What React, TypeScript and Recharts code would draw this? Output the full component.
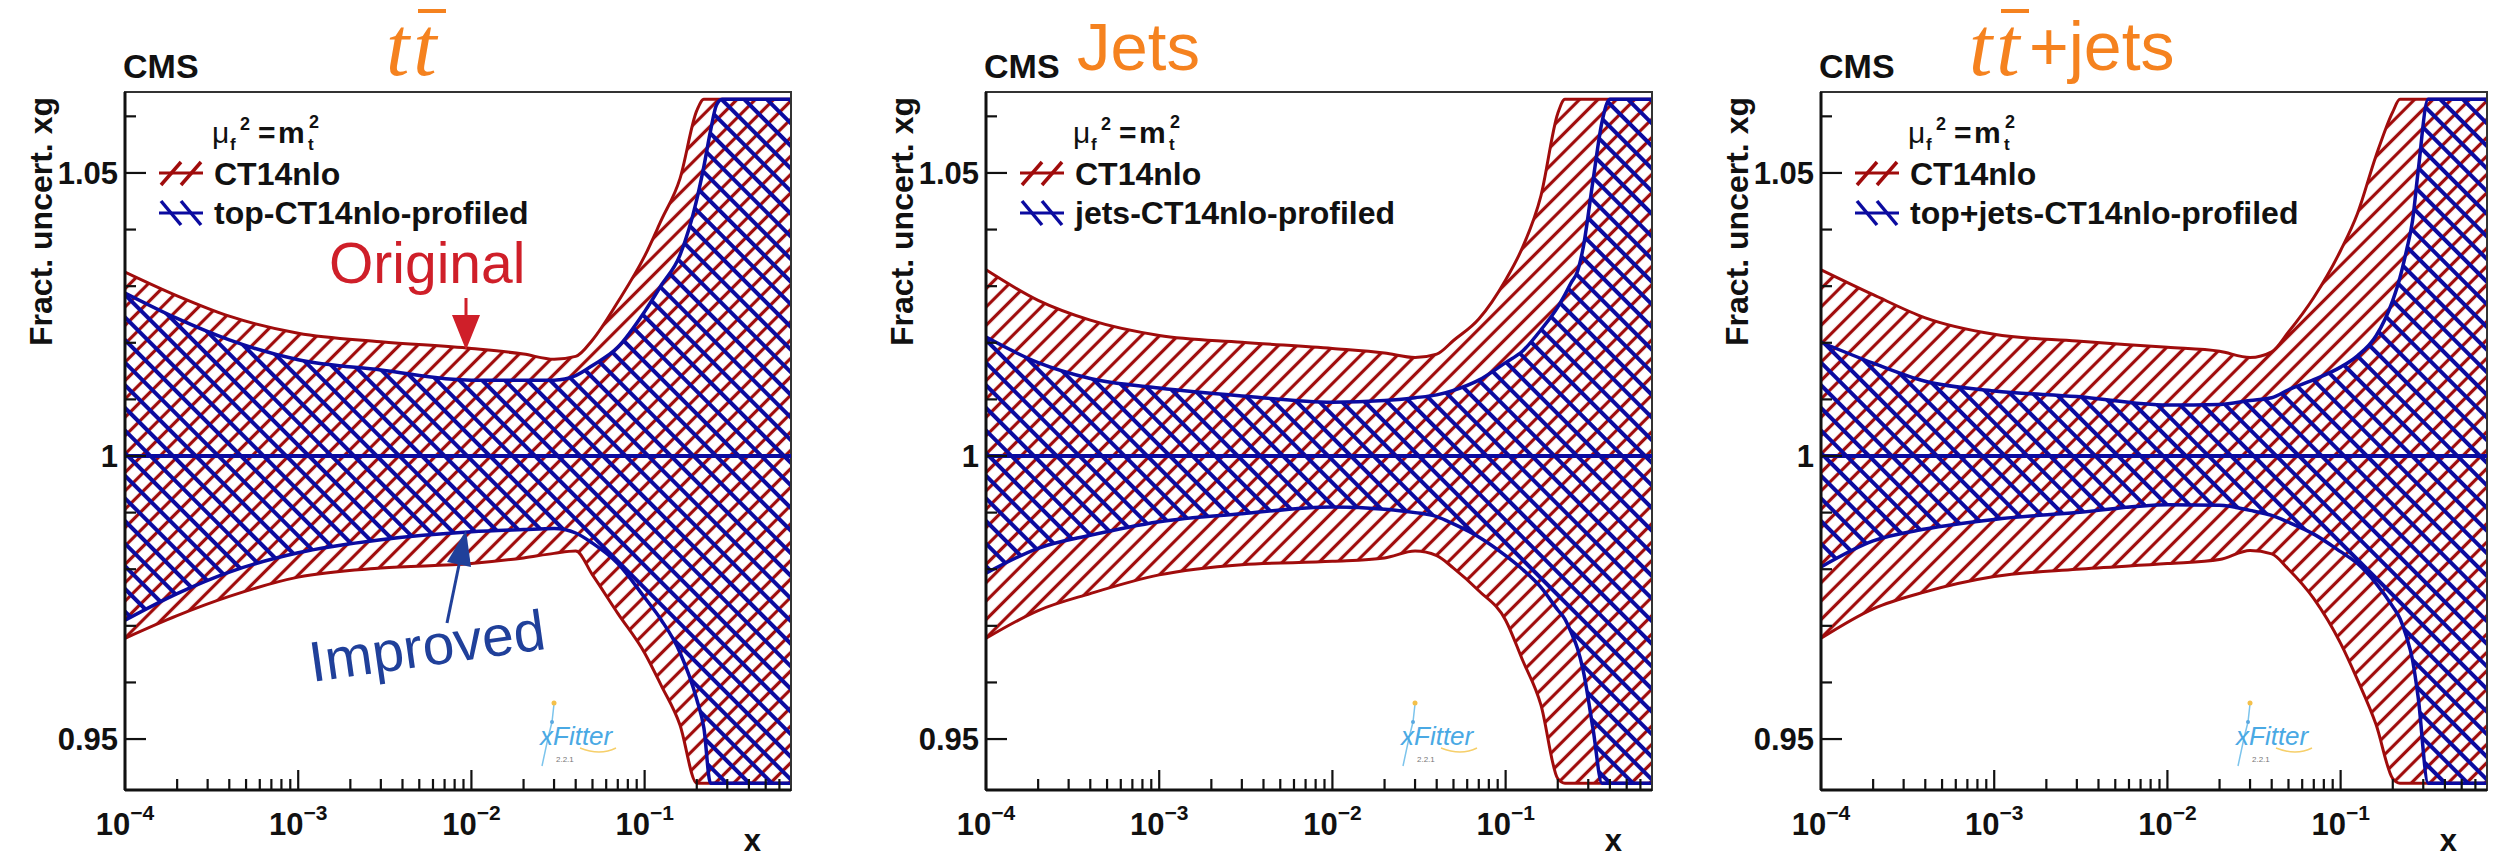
import React from 'react';
import { Area, ComposedChart, Legend, Line, ReferenceArea, XAxis, YAxis } from 'recharts';

const FONT = "'Liberation Sans', Arial, Helvetica, sans-serif";
const SERIF = "'Liberation Serif', 'Times New Roman', serif";
const RED = '#a00c0c';
const BLUE = '#0b0ba0';
const ORANGE = '#f5821f';
const INK = '#111';

// x sampling points shared by every band
const X_GRID = [1e-4, 2e-4, 4e-4, 1e-3, 3e-3, 1e-2, 0.02, 0.03, 0.04, 0.05, 0.07, 0.1, 0.125, 0.16, 0.2, 0.22, 0.24, 0.26, 0.28, 0.32, 0.36, 0.4, 0.5, 0.7];
const X_DOMAIN: [number, number] = [1e-4, 0.7];
const Y_DOMAIN: [number, number] = [0.941, 1.0643];
const CENTRAL = 1;

const X_MAJOR = [1e-4, 1e-3, 1e-2, 1e-1];
const X_MAJOR_EXP = ['\u22124', '\u22123', '\u22122', '\u22121'];
const X_TICKS = [
  1e-4, 2e-4, 3e-4, 4e-4, 5e-4, 6e-4, 7e-4, 8e-4, 9e-4,
  1e-3, 2e-3, 3e-3, 4e-3, 5e-3, 6e-3, 7e-3, 8e-3, 9e-3,
  1e-2, 2e-2, 3e-2, 4e-2, 5e-2, 6e-2, 7e-2, 8e-2, 9e-2,
  0.1, 0.2, 0.3, 0.4, 0.5, 0.6,
];
const Y_TICKS = [0.95, 0.96, 0.97, 0.98, 0.99, 1, 1.01, 1.02, 1.03, 1.04, 1.05, 1.06];
const Y_MAJOR = [0.95, 1, 1.05];
const Y_MAJOR_LABELS = ['0.95', '1', '1.05'];

// ttbar panel
const TT_RED_LO = [0.9678, 0.9718, 0.9752, 0.9786, 0.9802, 0.981, 0.982, 0.9828, 0.9832, 0.979, 0.9722, 0.9652, 0.9594, 0.9525, 0.9422, 0.9422, 0.9422, 0.9422, 0.9422, 0.9422, 0.9422, 0.9422, 0.9422, 0.9422];
const TT_RED_HI = [1.0325, 1.0283, 1.0247, 1.0217, 1.0202, 1.019, 1.018, 1.0171, 1.0176, 1.0205, 1.0272, 1.0353, 1.0417, 1.049, 1.061, 1.063, 1.063, 1.063, 1.063, 1.063, 1.063, 1.063, 1.063, 1.063];
const TT_BLUE_LO = [0.971, 0.9757, 0.9795, 0.9829, 0.9852, 0.9866, 0.987, 0.9872, 0.9864, 0.9846, 0.981, 0.975, 0.971, 0.9653, 0.957, 0.9519, 0.9422, 0.9422, 0.9422, 0.9422, 0.9422, 0.9422, 0.9422, 0.9422];
const TT_BLUE_HI = [1.0288, 1.0243, 1.0205, 1.017, 1.0152, 1.0134, 1.0134, 1.0134, 1.0142, 1.016, 1.0192, 1.0255, 1.0302, 1.0355, 1.0453, 1.0512, 1.0574, 1.062, 1.063, 1.063, 1.063, 1.063, 1.063, 1.063];

// jets panel
const JETS_RED_LO = [0.9678, 0.9727, 0.9757, 0.979, 0.9808, 0.9814, 0.982, 0.9832, 0.9824, 0.9802, 0.9762, 0.971, 0.964, 0.956, 0.943, 0.9422, 0.9422, 0.9422, 0.9422, 0.9422, 0.9422, 0.9422, 0.9422, 0.9422];
const JETS_RED_HI = [1.0329, 1.0275, 1.024, 1.0213, 1.0201, 1.019, 1.0182, 1.0174, 1.018, 1.0204, 1.0242, 1.0311, 1.0368, 1.046, 1.0605, 1.063, 1.063, 1.063, 1.063, 1.063, 1.063, 1.063, 1.063, 1.063];
const JETS_BLUE_LO = [0.9793, 0.9837, 0.986, 0.9884, 0.9898, 0.991, 0.9906, 0.99, 0.9893, 0.988, 0.9857, 0.9824, 0.98, 0.9768, 0.9728, 0.9712, 0.9687, 0.966, 0.9622, 0.9517, 0.9422, 0.9422, 0.9422, 0.9422];
const JETS_BLUE_HI = [1.021, 1.0165, 1.0137, 1.012, 1.0106, 1.0095, 1.0098, 1.0103, 1.0108, 1.0116, 1.0134, 1.0165, 1.0185, 1.0223, 1.0263, 1.0285, 1.0307, 1.0326, 1.0367, 1.0488, 1.059, 1.063, 1.063, 1.063];

// ttbar+jets panel
const TJ_RED_LO = [0.9678, 0.973, 0.976, 0.9787, 0.98, 0.981, 0.9817, 0.9833, 0.9827, 0.98, 0.9748, 0.9669, 0.9605, 0.9526, 0.943, 0.9422, 0.9422, 0.9422, 0.9422, 0.9422, 0.9422, 0.9422, 0.9422, 0.9422];
const TJ_RED_HI = [1.0329, 1.0285, 1.0244, 1.0215, 1.0203, 1.0192, 1.0185, 1.0174, 1.0184, 1.0219, 1.028, 1.0363, 1.0428, 1.053, 1.0608, 1.063, 1.063, 1.063, 1.063, 1.063, 1.063, 1.063, 1.063, 1.063];
const TJ_BLUE_LO = [0.9804, 0.985, 0.9871, 0.9888, 0.99, 0.9914, 0.9913, 0.9904, 0.9895, 0.9883, 0.9862, 0.9831, 0.981, 0.9775, 0.9734, 0.9713, 0.9681, 0.964, 0.9575, 0.9422, 0.9422, 0.9422, 0.9422, 0.9422];
const TJ_BLUE_HI = [1.0201, 1.0164, 1.0132, 1.0115, 1.0105, 1.009, 1.0091, 1.0098, 1.0103, 1.0117, 1.0135, 1.0157, 1.0177, 1.0212, 1.0275, 1.0315, 1.0363, 1.0415, 1.0502, 1.063, 1.063, 1.063, 1.063, 1.063];

function XTick(props: any) {
  const { x, y, payload } = props;
  const v = payload.value as number;
  const idx = X_MAJOR.findIndex((m) => Math.abs(v / m - 1) < 1e-6);
  const len = idx >= 0 ? 20 : 11;
  return (
    <g>
      <line x1={x} y1={y} x2={x} y2={y - len} stroke={INK} strokeWidth={2.2} />
      {idx >= 0 && (
        <text x={x} y={y + 45} textAnchor="middle" fontFamily={FONT} fontWeight="bold" fontSize={31} fill={INK}>
          10<tspan dy={-15} fontSize={21}>{X_MAJOR_EXP[idx]}</tspan>
        </text>
      )}
    </g>
  );
}

function YTick(props: any) {
  const { x, y, payload } = props;
  const v = payload.value as number;
  const idx = Y_MAJOR.findIndex((m) => Math.abs(v - m) < 1e-6);
  const len = idx >= 0 ? 21 : 11;
  return (
    <g>
      <line x1={x} y1={y} x2={x + len} y2={y} stroke={INK} strokeWidth={2.2} />
      {idx >= 0 && (
        <text x={x - 7} y={y + 11} textAnchor="end" fontFamily={FONT} fontWeight="bold" fontSize={31} fill={INK}>
          {Y_MAJOR_LABELS[idx]}
        </text>
      )}
    </g>
  );
}

function LegendBox({ profiled }: { profiled: string }) {
  return (
    <svg width={420} height={125} style={{ display: 'block', overflow: 'visible' }}>
      <text x={62} y={31} fontFamily={FONT} fontSize={30} fill={INK}>μ</text>
      <text x={80} y={38} fontFamily={FONT} fontWeight="bold" fontSize={17} fill={INK}>f</text>
      <text x={90} y={18} fontFamily={FONT} fontWeight="bold" fontSize={18} fill={INK}>2</text>
      <text x={108} y={31} fontFamily={FONT} fontWeight="bold" fontSize={30} fill={INK}>=</text>
      <text x={128} y={31} fontFamily={FONT} fontWeight="bold" fontSize={30} fill={INK}>m</text>
      <text x={158} y={38} fontFamily={FONT} fontWeight="bold" fontSize={17} fill={INK}>t</text>
      <text x={159} y={16} fontFamily={FONT} fontWeight="bold" fontSize={18} fill={INK}>2</text>

      <line x1={9} y1={61} x2={53} y2={61} stroke={RED} strokeWidth={3} />
      <line x1={11} y1={73} x2={31} y2={50} stroke={RED} strokeWidth={3.5} />
      <line x1={31} y1={73} x2={51} y2={50} stroke={RED} strokeWidth={3.5} />
      <text x={64} y={73} fontFamily={FONT} fontWeight="bold" fontSize={32} fill={INK}>CT14nlo</text>

      <line x1={9} y1={101} x2={53} y2={101} stroke={BLUE} strokeWidth={3} />
      <line x1={11} y1={89} x2={31} y2={113} stroke={BLUE} strokeWidth={3.5} />
      <line x1={31} y1={89} x2={51} y2={113} stroke={BLUE} strokeWidth={3.5} />
      <text x={64} y={112} fontFamily={FONT} fontWeight="bold" fontSize={32} fill={INK}>{profiled}</text>
    </svg>
  );
}

function XFitterLogo({ x }: { x: number }) {
  return (
    <g>
      <path d={`M ${x + 14} 704 L ${x + 12} 722 L ${x + 8} 738 L ${x + 2} 766`} stroke="#7cc4ec" strokeWidth={1.5} fill="none" />
      <circle cx={x + 14} cy={703} r={2.5} fill="#f4c04a" />
      <circle cx={x + 12} cy={722} r={2} fill="#5aa8e0" />
      <path d={`M ${x + 40} 748 Q ${x + 60} 756 ${x + 76} 748`} stroke="#f6cf6a" strokeWidth={1.5} fill="none" />
      <text x={x} y={745} fontFamily={FONT} fontStyle="italic" fontSize={26} fill="#4aa9e4">xFitter</text>
      <text x={x + 16} y={762} fontFamily={FONT} fontSize={8} fill="#777">2.2.1</text>
    </g>
  );
}

function TtBar({ x, y }: { x: number; y: number }) {
  return (
    <g>
      <text x={x} y={y} fontFamily={SERIF} fontStyle="italic" fontSize={84} letterSpacing={4} fill={ORANGE}>tt</text>
      <rect x={x + 32} y={9} width={28} height={4} fill={ORANGE} />
    </g>
  );
}

function Panel(props: {
  id: string;
  left: number;
  rLo: number[];
  rHi: number[];
  bLo: number[];
  bHi: number[];
  profiled: string;
  title: 'tt' | 'jets' | 'ttjets';
  annotate?: boolean;
}) {
  const { id, left, rLo, rHi, bLo, bHi, profiled, title, annotate } = props;
  const rows = X_GRID.map((x, i) => ({ x, red: [rLo[i], rHi[i]], blue: [bLo[i], bHi[i]], center: CENTRAL }));

  return (
    <div style={{ position: 'absolute', left, top: 0, width: 800, height: 858 }}>
      <ComposedChart width={800} height={858} data={rows} margin={{ top: 92, right: 9, bottom: 0, left: 0 }}>
        <defs>
          <pattern id={`rh-${id}`} patternUnits="userSpaceOnUse" width={13} height={13} patternTransform="rotate(-45)">
            <line x1={0} y1={6.5} x2={13} y2={6.5} stroke={RED} strokeWidth={3.2} />
          </pattern>
          <pattern id={`bh-${id}`} patternUnits="userSpaceOnUse" width={16} height={16} patternTransform="rotate(45)">
            <line x1={0} y1={8} x2={16} y2={8} stroke={BLUE} strokeWidth={4} />
          </pattern>
        </defs>
        <XAxis
          dataKey="x"
          type="number"
          scale="log"
          domain={X_DOMAIN}
          allowDataOverflow
          ticks={X_TICKS}
          interval={0}
          tickSize={0}
          tickMargin={0}
          tickLine={false}
          height={68}
          axisLine={{ stroke: INK, strokeWidth: 3 }}
          tick={(p: any) => <XTick {...p} />}
        />
        <YAxis
          type="number"
          domain={Y_DOMAIN}
          allowDataOverflow
          ticks={Y_TICKS}
          interval={0}
          tickSize={0}
          tickMargin={0}
          tickLine={false}
          width={125}
          axisLine={{ stroke: INK, strokeWidth: 3 }}
          tick={(p: any) => <YTick {...p} />}
        />
        <Area
          dataKey="red"
          type="monotone"
          stroke={RED}
          strokeWidth={3}
          fill={`url(#rh-${id})`}
          fillOpacity={1}
          isAnimationActive={false}
        />
        <Area
          dataKey="blue"
          type="monotone"
          stroke={BLUE}
          strokeWidth={3.5}
          fill={`url(#bh-${id})`}
          fillOpacity={1}
          isAnimationActive={false}
        />
        <Line dataKey="center" stroke={BLUE} strokeWidth={4} dot={false} isAnimationActive={false} />
        <ReferenceArea
          x1={X_DOMAIN[0]}
          x2={X_DOMAIN[1]}
          y1={Y_DOMAIN[0]}
          y2={Y_DOMAIN[1]}
          fill="none"
          stroke="#333"
          strokeWidth={2}
        />
        <Legend
          layout="vertical"
          align="center"
          verticalAlign="middle"
          wrapperStyle={{ position: 'absolute', left: 150, top: 112, width: 420, height: 125 }}
          content={() => <LegendBox profiled={profiled} />}
        />
      </ComposedChart>

      <svg width={800} height={858} style={{ position: 'absolute', left: 0, top: 0, pointerEvents: 'none', overflow: 'visible' }}>
        <text x={123} y={78} fontFamily={FONT} fontWeight="bold" fontSize={34} fill={INK}>CMS</text>
        {title === 'tt' && <TtBar x={386} y={75} />}
        {title === 'jets' && (
          <text x={216} y={70} fontFamily={FONT} fontSize={67} fill={ORANGE}>Jets</text>
        )}
        {title === 'ttjets' && (
          <g>
            <TtBar x={273} y={75} />
            <text x={333} y={70} fontFamily={FONT} fontSize={68} fill={ORANGE}>+jets</text>
          </g>
        )}
        <text
          x={52}
          y={97}
          transform="rotate(-90 52 97)"
          textAnchor="end"
          fontFamily={FONT}
          fontWeight="bold"
          fontSize={32}
          fill={INK}
        >
          Fract. uncert. xg
        </text>
        <text x={761} y={851} textAnchor="end" fontFamily={FONT} fontWeight="bold" fontSize={31} fill={INK}>x</text>
        <XFitterLogo x={540} />
        {annotate && (
          <g>
            <text x={329} y={283} fontFamily={FONT} fontSize={57} fill="#cf1f29">Original</text>
            <line x1={466} y1={298} x2={466} y2={320} stroke="#cf1f29" strokeWidth={3} />
            <polygon points="452,315 480,315 466,350" fill="#cf1f29" />
            <text x={312} y={682} transform="rotate(-8 312 682)" fontFamily={FONT} fontSize={57} fill="#20409a">Improved</text>
            <line x1={447} y1={623} x2={460} y2={560} stroke="#20409a" strokeWidth={3} />
            <polygon points="466,530 471,567 447,562" fill="#20409a" />
          </g>
        )}
      </svg>
    </div>
  );
}

export default function App() {
  return (
    <div style={{ position: 'absolute', left: 0, top: 0, width: 2501, height: 858, background: '#fff', overflow: 'hidden' }}>
      <Panel id="tt" left={0} rLo={TT_RED_LO} rHi={TT_RED_HI} bLo={TT_BLUE_LO} bHi={TT_BLUE_HI} profiled="top-CT14nlo-profiled" title="tt" annotate />
      <Panel id="jets" left={861} rLo={JETS_RED_LO} rHi={JETS_RED_HI} bLo={JETS_BLUE_LO} bHi={JETS_BLUE_HI} profiled="jets-CT14nlo-profiled" title="jets" />
      <Panel id="ttjets" left={1696} rLo={TJ_RED_LO} rHi={TJ_RED_HI} bLo={TJ_BLUE_LO} bHi={TJ_BLUE_HI} profiled="top+jets-CT14nlo-profiled" title="ttjets" />
    </div>
  );
}
